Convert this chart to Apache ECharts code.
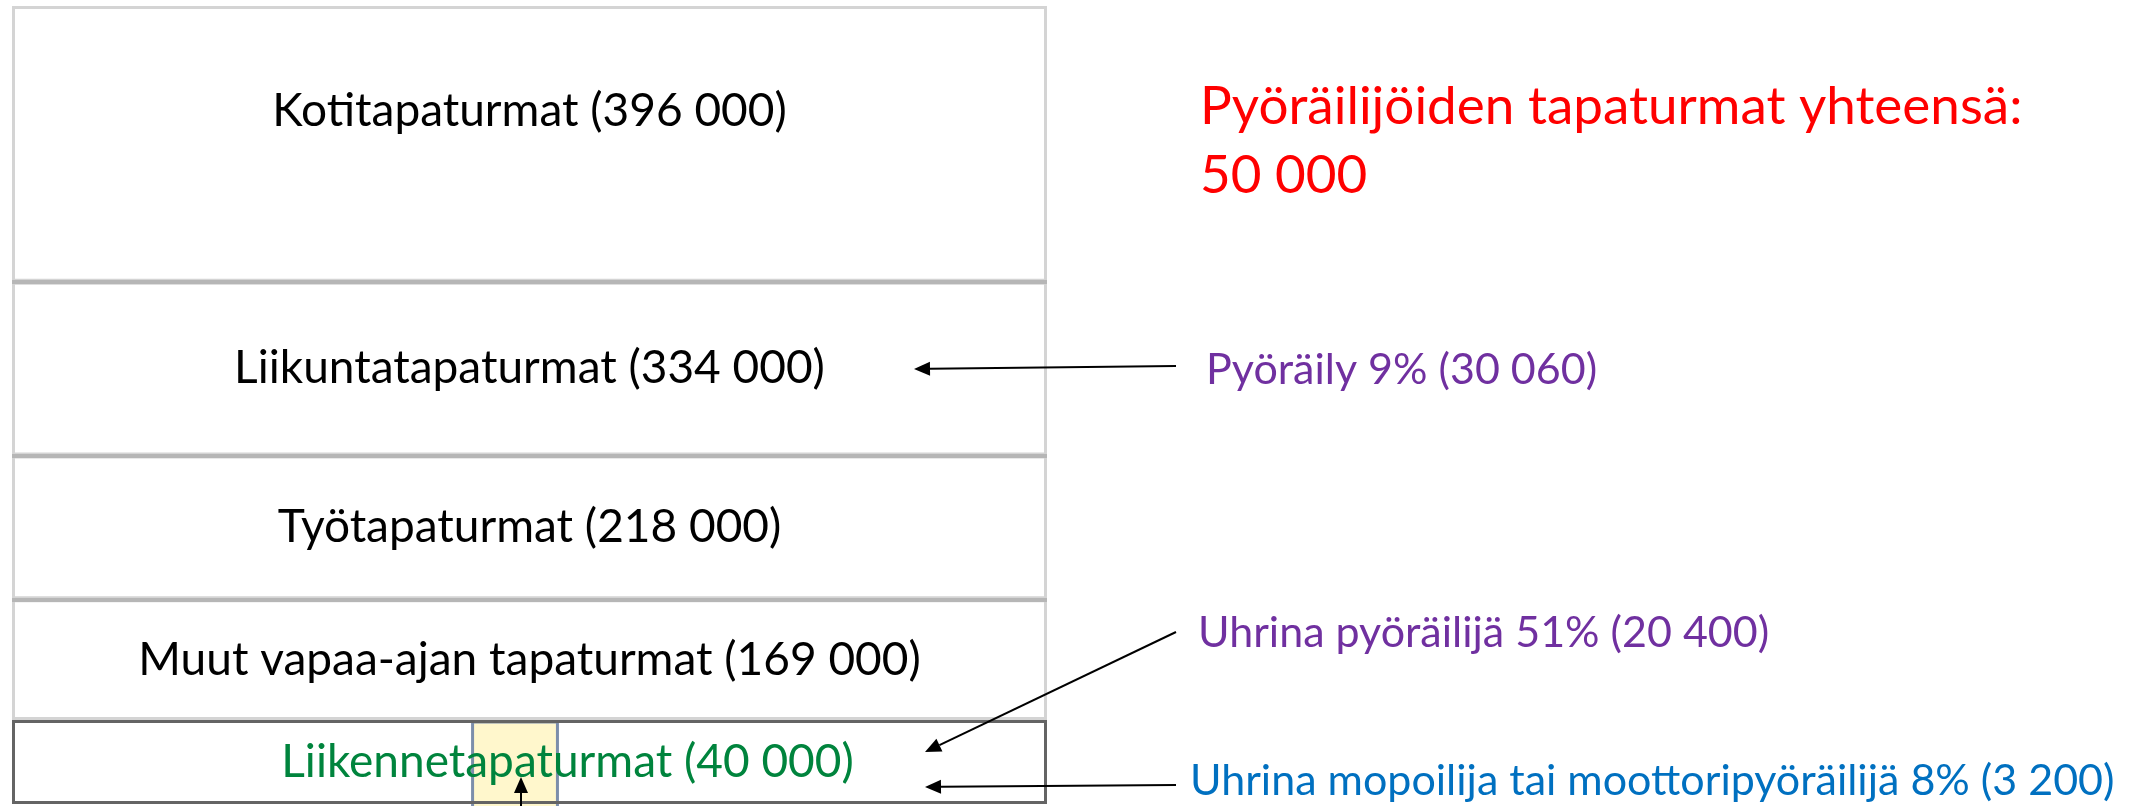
<!DOCTYPE html>
<html>
<head>
<meta charset="utf-8">
<script src="https://cdn.jsdelivr.net/npm/echarts@6/dist/echarts.min.js"></script>
<style>html,body{margin:0;padding:0;background:#fff;}#c{width:2149px;height:806px;}</style>
</head>
<body>
<div id="c"></div>
<script>
// ---- data (bottom to top) ----
const categories = ['Liikennetapaturmat', 'Muut vapaa-ajan tapaturmat', 'Työtapaturmat', 'Liikuntatapaturmat', 'Kotitapaturmat'];
const counts = [40000, 169000, 218000, 334000, 396000];
// drawn height of each box in the diagram (not proportional to counts)
const boxUnits = [84, 121, 144, 174, 276];
// part of the traffic box highlighted (share of box width, %)
const highlightRange = [44.5, 52.7];
const totalTitle = 'Pyöräilijöiden tapaturmat yhteensä:';
const totalCount = 50000;
const noteTexts = ['Pyöräily', 'Uhrina pyöräilijä', 'Uhrina mopoilija tai moottoripyöräilijä'];
const noteShares = [9, 51, 8];
const noteCounts = [30060, 20400, 3200];

const fmt = n => String(n).replace(/\B(?=(\d{3})+(?!\d))/g, ' ');
const FONT = 'Lato';
const total = boxUnits.reduce((a, b) => a + b, 0);
const labelColors = ['#00843d', '#000', '#000', '#000', '#000'];
const labelOffsets = [[38, 0], [0, 0], [0, 0], [0, 0], [0, -33]];
const noteColors = ['#7030a0', '#7030a0', '#0070c0'];

// separators between the upper boxes
const cum = [];
boxUnits.reduce((a, b) => { cum.push(a + b); return a + b; }, 0);

const series = categories.map((name, i) => ({
  type: 'bar',
  name: name,
  stack: 'all',
  barWidth: '100%',
  clip: false,
  z: i === 0 ? 4 : 2,
  data: [{ value: boxUnits[i], count: counts[i] }],
  itemStyle: {
    color: 'rgba(255,255,255,0)',
    borderColor: i === 0 ? '#646464' : '#d4d4d4',
    borderWidth: 3
  },
  label: {
    show: true,
    position: 'inside',
    offset: labelOffsets[i],
    fontFamily: FONT,
    fontSize: 46,
    color: labelColors[i],
    formatter: p => name + ' (' + fmt(counts[i]) + ')'
  },
  emphasis: { disabled: true },
  markLine: i === categories.length - 1 ? {
    silent: true,
    symbol: 'none',
    label: { show: false },
    lineStyle: { color: '#b6b6b6', width: 4, type: 'solid' },
    data: cum.slice(1, cum.length - 1).map(v => ({ yAxis: v }))
  } : undefined
}));

series.push({
  type: 'custom',
  xAxisIndex: 1,
  yAxisIndex: 0,
  z: 1,
  clip: false,
  data: [[highlightRange[0], highlightRange[1], 0, boxUnits[0]]],
  renderItem: (params, api) => {
    const p0 = api.coord([api.value(0), api.value(3)]);
    const p1 = api.coord([api.value(1), api.value(2)]);
    return {
      type: 'rect',
      shape: { x: p0[0], y: p0[1] + 2, width: p1[0] - p0[0], height: p1[1] - p0[1] + 4 },
      style: { fill: '#fff7cc', stroke: '#7c8eab', lineWidth: 3 }
    };
  }
});

const chart = echarts.init(document.getElementById('c'), null, { renderer: 'canvas' });

function arrow(x1, y1, x2, y2) {
  const ang = Math.atan2(y2 - y1, x2 - x1);
  const L = 16, W = 7;
  const bx = x2 - L * Math.cos(ang), by = y2 - L * Math.sin(ang);
  const nx = -Math.sin(ang) * W, ny = Math.cos(ang) * W;
  return [
    { type: 'line', silent: true, z: 100, shape: { x1: x1, y1: y1, x2: bx, y2: by }, style: { stroke: '#000', lineWidth: 2 } },
    { type: 'polygon', silent: true, z: 100, shape: { points: [[x2, y2], [bx + nx, by + ny], [bx - nx, by - ny]] }, style: { fill: '#000' } }
  ];
}

const notePos = [[1206, 370], [1198, 633], [1190, 781]];
const graphics = [
  { type: 'text', left: 1200, top: 72, z: 100, style: { text: totalTitle + '\n' + fmt(totalCount), font: '53px ' + FONT, fill: '#ff0000', lineHeight: 69 } }
];
noteTexts.forEach((t, i) => {
  graphics.push({
    type: 'text', x: notePos[i][0], y: notePos[i][1], z: 100,
    style: { text: t + ' ' + noteShares[i] + '% (' + fmt(noteCounts[i]) + ')', font: '43px ' + FONT, fill: noteColors[i], verticalAlign: 'middle', align: 'left' }
  });
});
graphics.push(...arrow(1176, 366, 914, 369));
graphics.push(...arrow(1176, 632, 925, 752));
graphics.push(...arrow(1176, 785, 925, 787));
graphics.push(...arrow(521, 810, 521, 777));

chart.setOption({
  animation: false,
  backgroundColor: '#fff',
  grid: { left: 12, right: 1102, top: 6, bottom: 2 },
  xAxis: [
    { type: 'category', data: ['Tapaturmat'], show: false },
    { type: 'value', min: 0, max: 100, show: false }
  ],
  yAxis: { type: 'value', min: 0, max: total, show: false },
  series: series,
  graphic: { elements: graphics }
});
</script>
</body>
</html>
